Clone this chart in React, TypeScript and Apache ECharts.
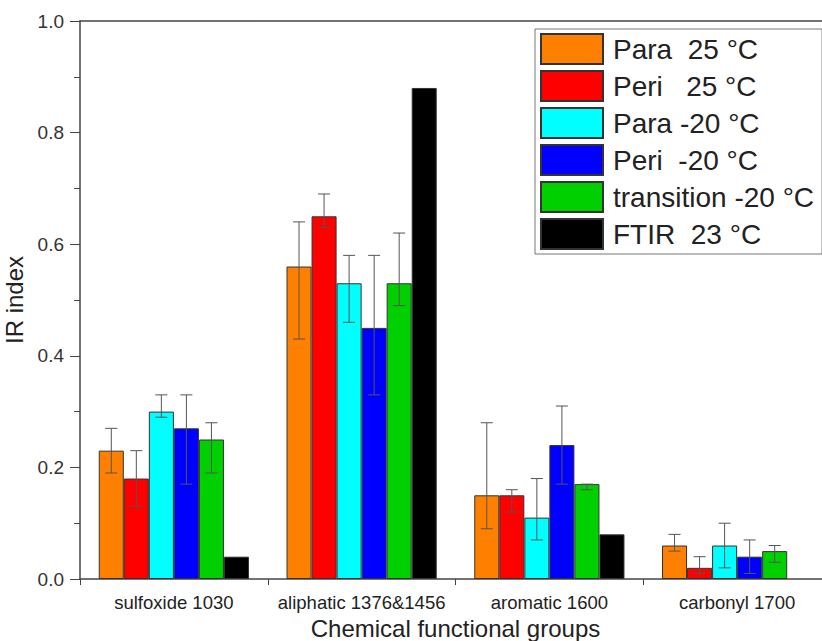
import React, { useEffect, useRef } from "react";
import * as echarts from "echarts";

const categories = ["sulfoxide 1030", "aliphatic 1376&1456", "aromatic 1600", "carbonyl 1700"];
const seriesNames = ["Para  25 °C", "Peri   25 °C", "Para -20 °C", "Peri  -20 °C", "transition -20 °C", "FTIR  23 °C"];
const seriesColors = ["#FF8000", "#FF0000", "#00FFFF", "#0000FF", "#00D000", "#000000"];

const para25 = [0.23, 0.56, 0.15, 0.06];
const peri25 = [0.18, 0.65, 0.15, 0.02];
const para20 = [0.30, 0.53, 0.11, 0.06];
const peri20 = [0.27, 0.45, 0.24, 0.04];
const trans20 = [0.25, 0.53, 0.17, 0.05];
const ftir23 = [0.04, 0.88, 0.08, null];

const para25Hi = [0.27, 0.64, 0.28, 0.08];
const para25Lo = [0.19, 0.43, 0.09, 0.05];
const peri25Hi = [0.23, 0.69, 0.16, 0.04];
const peri25Lo = [0.13, 0.63, 0.12, 0.01];
const para20Hi = [0.33, 0.58, 0.18, 0.10];
const para20Lo = [0.29, 0.46, 0.07, 0.02];
const peri20Hi = [0.33, 0.58, 0.31, 0.07];
const peri20Lo = [0.17, 0.33, 0.17, 0.01];
const trans20Hi = [0.28, 0.62, 0.17, 0.06];
const trans20Lo = [0.19, 0.49, 0.16, 0.03];

const yTicks = [0, 0.2, 0.4, 0.6, 0.8, 1.0];

const values = [para25, peri25, para20, peri20, trans20, ftir23];
const errHi: (number[] | null)[] = [para25Hi, peri25Hi, para20Hi, peri20Hi, trans20Hi, null];
const errLo: (number[] | null)[] = [para25Lo, peri25Lo, para20Lo, peri20Lo, trans20Lo, null];

const FONT = "'Liberation Sans', Arial, sans-serif";
const AXIS_COLOR = "#444";

export default function App() {
  const ref = useRef<HTMLDivElement>(null);
  useEffect(() => {
    if (!ref.current) return;
    const chart = echarts.init(ref.current, null, { renderer: "svg" });
    const nSeries = seriesNames.length;

    const barSeries = seriesNames.map((name, i) => ({
      name,
      type: "bar",
      xAxisIndex: 0,
      data: values[i],
      barGap: "0%",
      barCategoryGap: "20%",
      itemStyle: { color: seriesColors[i], borderColor: "#333", borderWidth: 1 },
      z: 2,
    }));

    const errSeries: any[] = [];
    seriesNames.forEach((name, i) => {
      const hi = errHi[i];
      const lo = errLo[i];
      if (!hi || !lo) return;
      errSeries.push({
        type: "custom",
        name: name + " err",
        xAxisIndex: 0,
        z: 5,
        silent: true,
        encode: { x: 0, y: [1, 2] },
        data: categories.map((_, k) => [k, lo[k], hi[k]]),
        renderItem: (params: any, api: any) => {
          const idx = api.value(0);
          const base = api.coord([idx, 0]);
          const catW = api.size([1, 0])[0];
          const bw = (catW * 0.8) / nSeries;
          const cx = base[0] - catW * 0.4 + bw * (i + 0.5);
          const yLo = api.coord([idx, api.value(1)])[1];
          const yHi = api.coord([idx, api.value(2)])[1];
          const cap = 6;
          const style = { stroke: "#555", lineWidth: 1 };
          return {
            type: "group",
            children: [
              { type: "line", shape: { x1: cx, y1: yHi, x2: cx, y2: yLo }, style },
              { type: "line", shape: { x1: cx - cap, y1: yHi, x2: cx + cap, y2: yHi }, style },
              { type: "line", shape: { x1: cx - cap, y1: yLo, x2: cx + cap, y2: yLo }, style },
            ],
          };
        },
      });
    });

    chart.setOption({
      animation: false,
      backgroundColor: "#ffffff",
      textStyle: { fontFamily: FONT },
      grid: { left: 80, right: -9, top: 21, bottom: 62, containLabel: false, outerBoundsMode: "none" },
      legend: {
        data: seriesNames,
        orient: "vertical",
        left: 535,
        top: 29,
        itemWidth: 62,
        itemHeight: 30,
        itemGap: 5,
        padding: [4, 8, 4, 5],
        backgroundColor: "#ffffff",
        borderColor: "#777",
        borderWidth: 1,
        icon: "rect",
        textStyle: { fontSize: 28, color: "#222", fontFamily: FONT, padding: [0, 0, 0, 5] },
      },
      xAxis: [
        {
          type: "category",
          data: categories,
          position: "bottom",
          boundaryGap: true,
          axisLine: { show: true, lineStyle: { color: AXIS_COLOR, width: 1.5 } },
          axisTick: { show: true, alignWithLabel: false, length: 6, inside: false, interval: 0, lineStyle: { color: AXIS_COLOR } },
          axisLabel: { fontSize: 18.5, color: "#222", margin: 14, interval: 0, fontFamily: FONT },
          name: "Chemical functional groups",
          nameLocation: "middle",
          nameGap: 33,
          nameTextStyle: { fontSize: 24, color: "#222", fontFamily: FONT },
          splitLine: { show: false },
        },
        {
          type: "category",
          data: categories,
          position: "top",
          axisLine: { show: true, lineStyle: { color: AXIS_COLOR, width: 1.5 } },
          axisTick: { show: false },
          axisLabel: { show: false },
          splitLine: { show: false },
        },
      ],
      yAxis: {
        type: "value",
        min: yTicks[0],
        max: yTicks[yTicks.length - 1],
        interval: 0.2,
        axisLine: { show: true, lineStyle: { color: AXIS_COLOR, width: 1.5 } },
        axisTick: { show: true, inside: false, length: 10, lineStyle: { color: AXIS_COLOR } },
        minorTick: { show: true, splitNumber: 2, length: 6, lineStyle: { color: AXIS_COLOR } },
        axisLabel: { fontSize: 19, color: "#333", margin: 16, fontFamily: FONT, formatter: (v: number) => v.toFixed(1) },
        splitLine: { show: false },
        name: "IR index",
        nameLocation: "middle",
        nameGap: 42,
        nameTextStyle: { fontSize: 24, color: "#222", fontFamily: FONT },
      },
      series: [...barSeries, ...errSeries],
    });
    return () => chart.dispose();
  }, []);
  return (
    <div
      ref={ref}
      style={{ position: "fixed", left: 0, top: 0, width: 822, height: 641, background: "#fff" }}
    />
  );
}
